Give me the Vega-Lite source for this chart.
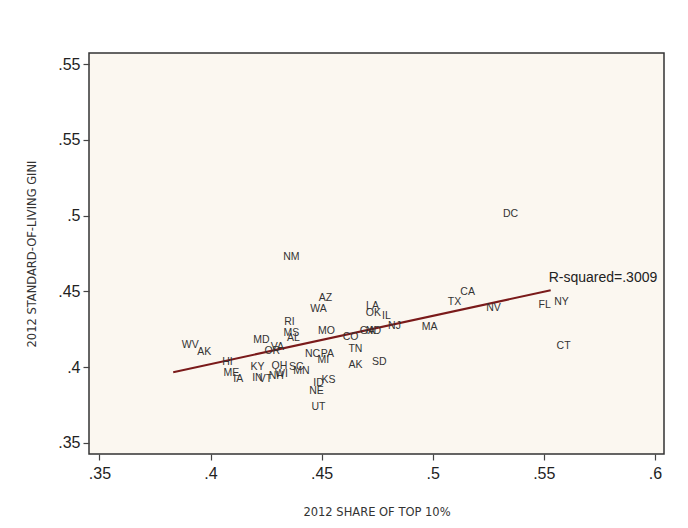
{
  "$schema": "https://vega.github.io/schema/vega-lite/v6.json",
  "autosize": "none",
  "width": 575,
  "height": 401,
  "padding": {"left": 89, "top": 53, "right": 24, "bottom": 74},
  "background": "white",
  "config": {
    "view": {"fill": "#FBF7F0", "stroke": "#333333", "strokeWidth": 1.5},
    "font": "Liberation Sans",
    "axis": {
      "grid": false,
      "domain": false,
      "ticks": true,
      "tickSize": 6,
      "tickColor": "#444444",
      "tickWidth": 1.2,
      "labelFont": "Liberation Sans",
      "labelFontSize": 16,
      "labelColor": "#222222",
      "titleFont": "DejaVu Sans",
      "titleFontSize": 11.5,
      "titleFontWeight": "normal",
      "titleColor": "#333333"
    }
  },
  "datasets": {
    "states": [
      {"state": "WV", "top10": 0.3909, "gini": 0.4145},
      {"state": "AK", "top10": 0.3972, "gini": 0.4099},
      {"state": "MD", "top10": 0.4229, "gini": 0.4178},
      {"state": "HI", "top10": 0.4076, "gini": 0.4033},
      {"state": "ME", "top10": 0.4094, "gini": 0.3961},
      {"state": "IA", "top10": 0.4125, "gini": 0.3921},
      {"state": "KY", "top10": 0.4211, "gini": 0.4000},
      {"state": "OH", "top10": 0.4310, "gini": 0.4007},
      {"state": "IN", "top10": 0.4211, "gini": 0.3928},
      {"state": "VT", "top10": 0.4247, "gini": 0.3921},
      {"state": "NH", "top10": 0.4296, "gini": 0.3941},
      {"state": "WI", "top10": 0.4319, "gini": 0.3954},
      {"state": "OR", "top10": 0.4278, "gini": 0.4105},
      {"state": "VA", "top10": 0.4301, "gini": 0.4132},
      {"state": "AZ", "top10": 0.4517, "gini": 0.4454},
      {"state": "WA", "top10": 0.4486, "gini": 0.4382},
      {"state": "RI", "top10": 0.4355, "gini": 0.4296},
      {"state": "MS", "top10": 0.4364, "gini": 0.4224},
      {"state": "AL", "top10": 0.4373, "gini": 0.4191},
      {"state": "MO", "top10": 0.4522, "gini": 0.4237},
      {"state": "CO", "top10": 0.4630, "gini": 0.4197},
      {"state": "LA", "top10": 0.4729, "gini": 0.4401},
      {"state": "OK", "top10": 0.4733, "gini": 0.4355},
      {"state": "IL", "top10": 0.4792, "gini": 0.4336},
      {"state": "GA", "top10": 0.4706, "gini": 0.4237},
      {"state": "ND", "top10": 0.4733, "gini": 0.4237},
      {"state": "NJ", "top10": 0.4828, "gini": 0.4270},
      {"state": "TN", "top10": 0.4652, "gini": 0.4118},
      {"state": "NC", "top10": 0.4459, "gini": 0.4086},
      {"state": "PA", "top10": 0.4526, "gini": 0.4086},
      {"state": "MI", "top10": 0.4508, "gini": 0.4046},
      {"state": "AK", "top10": 0.4652, "gini": 0.4013},
      {"state": "SD", "top10": 0.4760, "gini": 0.4033},
      {"state": "SC", "top10": 0.4386, "gini": 0.4000},
      {"state": "MN", "top10": 0.4409, "gini": 0.3974},
      {"state": "ID", "top10": 0.4486, "gini": 0.3895},
      {"state": "KS", "top10": 0.4531, "gini": 0.3914},
      {"state": "NE", "top10": 0.4477, "gini": 0.3842},
      {"state": "UT", "top10": 0.4486, "gini": 0.3737},
      {"state": "MA", "top10": 0.4986, "gini": 0.4263},
      {"state": "TX", "top10": 0.5098, "gini": 0.4428},
      {"state": "DC", "top10": 0.5350, "gini": 0.5013},
      {"state": "CA", "top10": 0.5157, "gini": 0.4493},
      {"state": "NV", "top10": 0.5274, "gini": 0.4388},
      {"state": "FL", "top10": 0.5504, "gini": 0.4408},
      {"state": "NY", "top10": 0.5580, "gini": 0.4428},
      {"state": "CT", "top10": 0.5589, "gini": 0.4138},
      {"state": "NM", "top10": 0.4364, "gini": 0.4724}
    ],
    "fit": [
      {"top10": 0.3832, "gini": 0.3967},
      {"top10": 0.5531, "gini": 0.4507}
    ],
    "r2": [
      {"top10": 0.5522, "gini": 0.4586, "label": "R-squared=.3009"}
    ]
  },
  "layer": [
    {
      "data": {"name": "fit"},
      "mark": {"type": "line", "color": "#7A1A1A", "strokeWidth": 2},
      "encoding": {
        "x": {
          "field": "top10", "type": "quantitative",
          "scale": {"domain": [0.3453, 0.6041], "nice": false, "zero": false},
          "axis": {
            "values": [0.35, 0.4, 0.45, 0.5, 0.55, 0.6],
            "labelExpr": "slice(format(datum.value, '.2~f'), 1)",
            "labelPadding": 5,
            "title": "2012 SHARE OF TOP 10%",
            "titlePadding": 25
          }
        },
        "y": {
          "field": "gini", "type": "quantitative",
          "scale": {"domain": [0.3427, 0.6073], "nice": false, "zero": false},
          "axis": {
            "values": [0.35, 0.4, 0.45, 0.5, 0.55, 0.6],
            "labelExpr": "datum.value > 0.59 ? '.55' : slice(format(datum.value, '.2~f'), 1)",
            "labelPadding": 3,
            "title": "2012 STANDARD-OF-LIVING GINI",
            "titlePadding": 20
          }
        }
      }
    },
    {
      "data": {"name": "states"},
      "mark": {"type": "text", "fontSize": 10.5, "color": "#333333", "font": "Liberation Sans"},
      "encoding": {
        "x": {"field": "top10", "type": "quantitative"},
        "y": {"field": "gini", "type": "quantitative"},
        "text": {"field": "state"}
      }
    },
    {
      "data": {"name": "r2"},
      "mark": {"type": "text", "fontSize": 14, "align": "left", "color": "#222222", "font": "Liberation Sans"},
      "encoding": {
        "x": {"field": "top10", "type": "quantitative"},
        "y": {"field": "gini", "type": "quantitative"},
        "text": {"field": "label"}
      }
    }
  ]
}
